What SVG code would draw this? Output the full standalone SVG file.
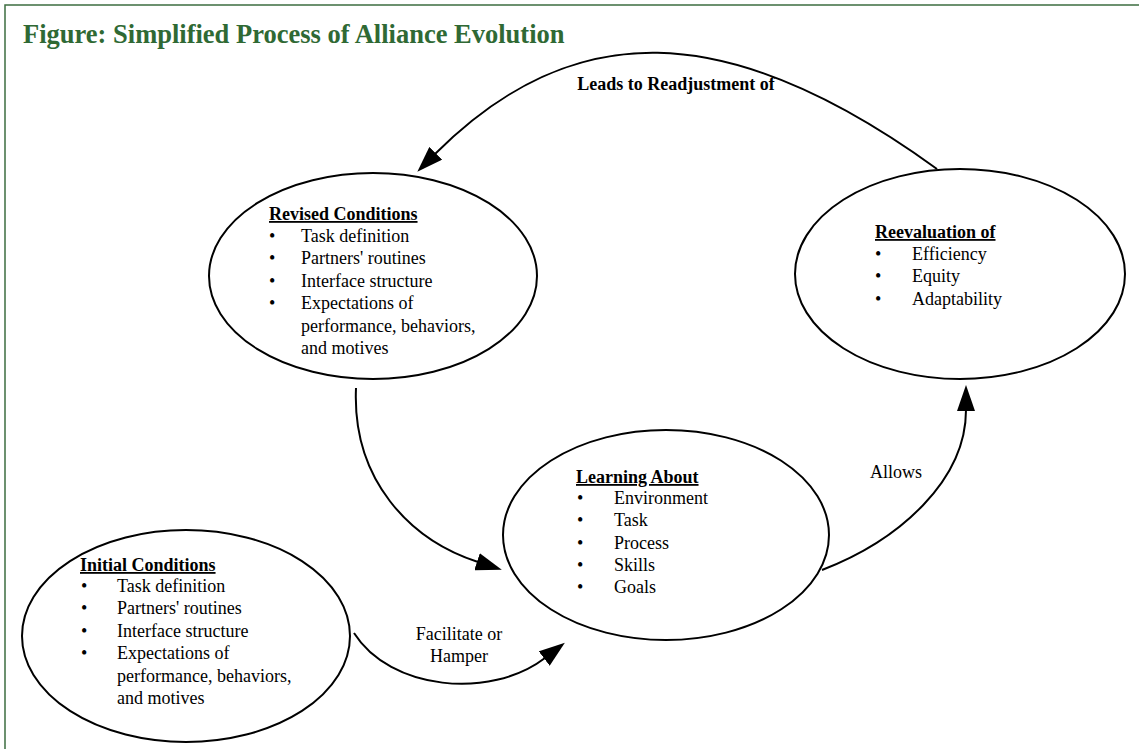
<svg xmlns="http://www.w3.org/2000/svg" width="1139" height="749" viewBox="0 0 1139 749">
  <defs>
    <marker id="arrow" viewBox="0 0 26 18" refX="1" refY="9" markerWidth="26" markerHeight="18" markerUnits="userSpaceOnUse" orient="auto">
      <path d="M0,0 L26,9 L0,18 z" fill="#000"/>
    </marker>
    <style>
      .frame { fill: #fff; stroke: #3d6e40; stroke-width: 1.5; }
      .title { font-family: "Liberation Serif", "Times New Roman", serif; font-weight: bold; font-size: 26.5px; fill: #2f6934; }
      .node ellipse { fill: #fff; stroke: #000; stroke-width: 2; }
      .t { font-family: "Liberation Serif", "Times New Roman", serif; font-size: 18px; fill: #000; }
      .h { font-weight: bold; text-decoration: underline; }
      .b { font-weight: bold; }
      .conn path { fill: none; stroke: #000; stroke-width: 2; marker-end: url(#arrow); }
    </style>
  </defs>

  <rect class="frame" x="5" y="5" width="1150" height="760"/>
  <text class="title" x="23" y="43">Figure: Simplified Process of Alliance Evolution</text>

  <g id="connectors" class="conn">
    <path d="M937,169 C725,15 571,18 435,154"/>
    <path d="M356,388 C352,480 410,540 478,562"/>
    <path d="M354,633 C390,690 490,700 545,658"/>
    <path d="M822,570 C900,540 966,480 966,410"/>
  </g>

  <g id="labels" class="t">
    <text class="b" x="676" y="90" text-anchor="middle">Leads to Readjustment of</text>
    <text x="896" y="478" text-anchor="middle">Allows</text>
    <text x="459" y="640" text-anchor="middle">Facilitate or</text>
    <text x="459" y="662" text-anchor="middle">Hamper</text>
  </g>

  <g id="revised" class="node">
    <ellipse cx="373" cy="276" rx="164" ry="103"/>
    <g class="t">
      <text class="h" x="269" y="220">Revised Conditions</text>
      <text x="269" y="242">•</text><text x="301" y="242">Task definition</text>
      <text x="269" y="264">•</text><text x="301" y="264">Partners' routines</text>
      <text x="269" y="287">•</text><text x="301" y="287">Interface structure</text>
      <text x="269" y="309">•</text><text x="301" y="309">Expectations of</text>
      <text x="301" y="332">performance, behaviors,</text>
      <text x="301" y="354">and motives</text>
    </g>
  </g>

  <g id="reevaluation" class="node">
    <ellipse cx="960" cy="274" rx="165" ry="105"/>
    <g class="t">
      <text class="h" x="875" y="238">Reevaluation of</text>
      <text x="875" y="260">•</text><text x="912" y="260">Efficiency</text>
      <text x="875" y="282">•</text><text x="912" y="282">Equity</text>
      <text x="875" y="305">•</text><text x="912" y="305">Adaptability</text>
    </g>
  </g>

  <g id="learning" class="node">
    <ellipse cx="666" cy="535" rx="163" ry="105"/>
    <g class="t">
      <text class="h" x="576" y="483">Learning About</text>
      <text x="577" y="504">•</text><text x="614" y="504">Environment</text>
      <text x="577" y="526">•</text><text x="614" y="526">Task</text>
      <text x="577" y="549">•</text><text x="614" y="549">Process</text>
      <text x="577" y="571">•</text><text x="614" y="571">Skills</text>
      <text x="577" y="593">•</text><text x="614" y="593">Goals</text>
    </g>
  </g>

  <g id="initial" class="node">
    <ellipse cx="186" cy="636" rx="164" ry="106"/>
    <g class="t">
      <text class="h" x="80" y="571">Initial Conditions</text>
      <text x="81" y="592">•</text><text x="117" y="592">Task definition</text>
      <text x="81" y="614">•</text><text x="117" y="614">Partners' routines</text>
      <text x="81" y="637">•</text><text x="117" y="637">Interface structure</text>
      <text x="81" y="659">•</text><text x="117" y="659">Expectations of</text>
      <text x="117" y="682">performance, behaviors,</text>
      <text x="117" y="704">and motives</text>
    </g>
  </g>
</svg>
